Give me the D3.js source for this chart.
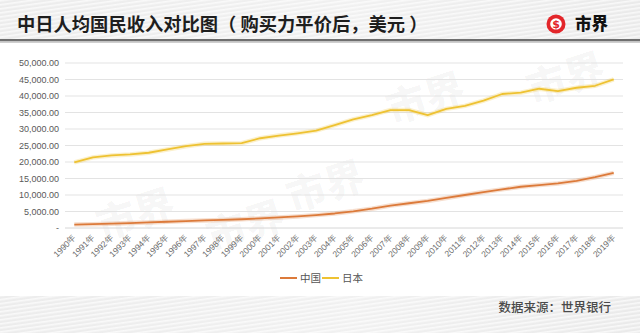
<!DOCTYPE html>
<html><head><meta charset="utf-8">
<script src="https://cdn.jsdelivr.net/npm/d3@7"></script>
<style>
html,body{margin:0;padding:0;background:#fff;}
svg{display:block;font-family:"Noto Sans CJK SC","Noto Sans",sans-serif;}
</style></head>
<body>
<script>
const years = d3.range(1990, 2020).map(String);
const yearLabels = years.map(y => y + "年");
const china = [1050,1150,1300,1500,1700,1900,2100,2300,2450,2650,2900,3200,3500,3900,4400,5050,5850,6800,7500,8200,9100,10000,10900,11700,12500,13000,13500,14300,15400,16700];
const japan = [19900,21400,22000,22300,22800,23800,24800,25500,25600,25700,27200,28000,28700,29500,31200,32900,34200,35750,35750,34200,36100,37000,38600,40600,41000,42200,41500,42500,43100,45050];
const yTicks = [0,5000,10000,15000,20000,25000,30000,35000,40000,45000,50000];
const seriesNames = ["中国","日本"];
const colors = ["#DC7A3A","#EEC232"];
const title = "中日人均国民收入对比图（ 购买力平价后，美元 ）";
const source = "数据来源：世界银行";
const brand = "市界";

const W = 640, H = 333;
const svg = d3.select("body").append("svg").attr("width", W).attr("height", H);
const defs = svg.append("defs");

const pat = defs.append("pattern").attr("id","stripes").attr("patternUnits","userSpaceOnUse")
  .attr("width", 40).attr("height", 4).attr("patternTransform","rotate(-8)");
pat.append("rect").attr("width",40).attr("height",4).attr("fill","#e9e9e9");
pat.append("rect").attr("width",40).attr("height",1.6).attr("fill","#f8f8f8");
const grad = defs.append("linearGradient").attr("id","shade").attr("x1",0).attr("x2",1).attr("y1",0).attr("y2",0);
grad.append("stop").attr("offset","0%").attr("stop-color","#fff").attr("stop-opacity",0.15);
grad.append("stop").attr("offset","55%").attr("stop-color","#fff").attr("stop-opacity",0.35);
grad.append("stop").attr("offset","100%").attr("stop-color","#fff").attr("stop-opacity",0.05);

svg.append("rect").attr("x",0).attr("y",0).attr("width",W).attr("height",40).attr("fill","url(#stripes)");
svg.append("rect").attr("x",0).attr("y",0).attr("width",W).attr("height",40).attr("fill","url(#shade)");
svg.append("rect").attr("x",0).attr("y",39).attr("width",W).attr("height",2.5).attr("fill","#6f6f6f");
svg.append("rect").attr("x",0).attr("y",41.5).attr("width",W).attr("height",1.5).attr("fill","#cfcfcf");
svg.append("text").attr("x",17).attr("y",31).attr("font-size",18.3).attr("font-weight",700)
  .attr("fill","#1e1e1e").text(title);

const logo = svg.append("g").attr("transform","translate(556,24)");
logo.append("circle").attr("r",9.5).attr("fill","#e3262a");
logo.append("circle").attr("r",5.8).attr("fill","#fff");
logo.append("text").attr("y",4).attr("text-anchor","middle").attr("font-size",11).attr("font-weight",900)
  .attr("fill","#e3262a").attr("font-family","DejaVu Sans").text("$");
svg.append("text").attr("x",575).attr("y",30).attr("font-size",16.5).attr("font-weight",900)
  .attr("fill","#111").text(brand);

svg.append("rect").attr("x",0).attr("y",296).attr("width",W).attr("height",H-296).attr("fill","url(#stripes)");
svg.append("rect").attr("x",0).attr("y",296).attr("width",W).attr("height",H-296).attr("fill","url(#shade)");
svg.append("text").attr("x",611).attr("y",312).attr("text-anchor","end").attr("font-size",12.5)
  .attr("font-weight",500).attr("fill","#4a4a4a").text(source);

const wm = [[140,228],[330,200],[430,112],[570,92],[250,240]];
svg.append("g").selectAll("text").data(wm).join("text")
  .attr("transform", d => `translate(${d[0]},${d[1]}) rotate(-18)`)
  .attr("text-anchor","middle").attr("font-size",40).attr("font-weight",900)
  .attr("fill","#000").attr("fill-opacity",0.035).text(brand);

const x = d3.scalePoint().domain(years).range([65, 623]).padding(0.5);
const y = d3.scaleLinear().domain([0, 50000]).range([228, 63]);

svg.append("g").selectAll("line").data(yTicks).join("line")
  .attr("x1",65).attr("x2",623).attr("y1",d=>y(d)).attr("y2",d=>y(d))
  .attr("stroke", d => d===0 ? "#d6d6d6" : "#e3e3e3").attr("stroke-width",1);

const fmt = d3.format(",.2f");
const yAxis = svg.append("g").attr("transform","translate(65,0)")
  .call(d3.axisLeft(y).tickValues(yTicks).tickSize(0).tickPadding(6).tickFormat(d => d===0 ? "-" : fmt(d)));
yAxis.select(".domain").remove();
yAxis.selectAll("text").attr("font-size",9).attr("fill","#595959").attr("font-family","Liberation Sans, Arial, sans-serif");

const xAxis = svg.append("g").attr("transform","translate(0,228)")
  .call(d3.axisBottom(x).tickSize(0).tickFormat((d,i)=>yearLabels[i]));
xAxis.select(".domain").remove();
xAxis.selectAll("text").attr("font-size",8.5).attr("fill","#6a6a6a")
  .attr("text-anchor","end").attr("dy",0).attr("y",0)
  .attr("transform","translate(2,10) rotate(-45)");

const line = d3.line().x((d,i)=>x(years[i])).y(d=>y(d)).curve(d3.curveLinear);
[china, japan].forEach((s,k)=>{
  svg.append("path").datum(s).attr("d",line).attr("fill","none")
    .attr("stroke",colors[k]).attr("stroke-opacity",0.25).attr("stroke-width",4.5);
  svg.append("path").datum(s).attr("d",line).attr("fill","none")
    .attr("stroke",colors[k]).attr("stroke-width",1.8).attr("stroke-linejoin","round");
});

const leg = svg.append("g").attr("transform","translate(280,278)");
const items = [{x:0},{x:42}];
items.forEach((it,k)=>{
  leg.append("line").attr("x1",it.x).attr("x2",it.x+17).attr("y1",0).attr("y2",0)
    .attr("stroke",colors[k]).attr("stroke-width",2);
  leg.append("text").attr("x",it.x+20).attr("y",3.8).attr("font-size",10.5).attr("fill","#555").text(seriesNames[k]);
});
</script>
</body></html>
